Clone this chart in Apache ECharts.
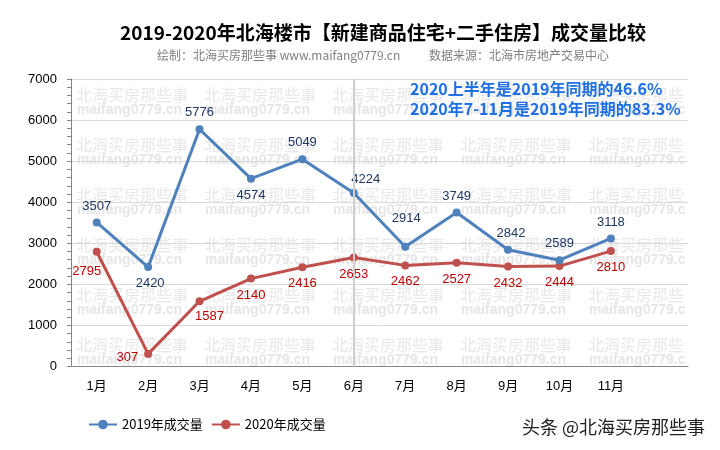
<!DOCTYPE html>
<html><head><meta charset="utf-8">
<script src="https://cdn.jsdelivr.net/npm/echarts@6/dist/echarts.min.js"></script>
<style>html,body{margin:0;padding:0;background:#fff}#c{width:720px;height:450px}</style>
</head><body><div id="c"></div>
<script>
// ---- data ----
const months = ['1月','2月','3月','4月','5月','6月','7月','8月','9月','10月','11月'];
const sales2019 = [3507,2420,5776,4574,5049,4224,2914,3749,2842,2589,3118];
const sales2020 = [2795,307,1587,2140,2416,2653,2462,2527,2432,2444,2810];
const seriesNames = ['2019年成交量','2020年成交量'];
const markedMonth = '6月';
const titleText = '2019-2020年北海楼市【新建商品住宅+二手住房】成交量比较';
const subtitleLeft = '绘制：北海买房那些事 www.maifang0779.cn';
const subtitleRight = '数据来源：北海市房地产交易中心';
const notes = ['2020上半年是2019年同期的46.6%','2020年7-11月是2019年同期的83.3%'];
const watermarkLines = ['北海买房那些事','maifang0779.cn'];
const credit = '头条 @北海买房那些事';

// ---- label placement (style) ----
const place2019 = [['top',0,0],['bottom',2,0],['top',0,0],['bottom',0,0],['top',0,0],['top',12,3],['top',1,-12],['top',0,0],['top',3,0],['top',0,0],['top',0,0]];
const place2020 = [['bottom',-10,3],['left',0,4],['bottom',10,-1],['bottom',0,0],['bottom',0,0],['bottom',0,0],['bottom',0,0],['bottom',0,0],['bottom',0,0],['bottom',0,0],['bottom',0,0]];

function build(vals, place){
  return vals.map((v,i)=>({value:v,label:{position:place[i][0],offset:[place[i][1],place[i][2]]}}));
}

const NUMF = '"Liberation Sans", Arial, "Noto Sans CJK SC", sans-serif';
const CJKF = '"Noto Sans CJK SC", "Liberation Sans", sans-serif';

const graphics = [];
// watermarks
for (let r=0;r<6;r++){
  for (let c=0;c<5;c++){
    const x = 76 + 128*c, y = 95 + 50*r;
    graphics.push({type:'text', z:-1, silent:true, x:x, y:y,
      style:{text:watermarkLines[0], fill:'#e8e8e8', font:'16px "Noto Sans CJK SC"', textVerticalAlign:'middle', width:688-x, overflow:'truncate', ellipsis:''}});
    graphics.push({type:'text', z:-1, silent:true, x:x+1, y:y+15,
      style:{text:watermarkLines[1], fill:'#e6e6e6', font:'bold 14px "Liberation Sans"', textVerticalAlign:'middle', width:688-x-1, overflow:'truncate', ellipsis:''}});
  }
}
graphics.push({type:'text', x:383, y:33, style:{text:titleText, fill:'#000', font:'bold 19px '+CJKF, textAlign:'center', textVerticalAlign:'middle'}});
graphics.push({type:'text', x:157, y:55, style:{text:subtitleLeft, fill:'#7f7f7f', font:'12px '+CJKF, textAlign:'left', textVerticalAlign:'middle'}});
graphics.push({type:'text', x:609, y:55, style:{text:subtitleRight, fill:'#7f7f7f', font:'12px '+CJKF, textAlign:'right', textVerticalAlign:'middle'}});
notes.forEach((t,i)=>graphics.push({type:'text', x:410, y:89+20*i, style:{text:t, fill:'#1f6fe5', font:'bold 16px '+CJKF, textAlign:'left', textVerticalAlign:'middle'}}));
graphics.push({type:'text', x:705, y:427, style:{text:credit, fill:'#222', font:'18px '+CJKF, textAlign:'right', textVerticalAlign:'middle', stroke:'#fff', lineWidth:2}});

const chart = echarts.init(document.getElementById('c'));
chart.setOption({
  animation:false,
  backgroundColor:'#fff',
  grid:{left:71, right:32, top:79, bottom:83.5, containLabel:false},
  legend:{left:83, top:413, itemWidth:28, itemHeight:12, itemGap:8,
    textStyle:{fontSize:13, color:'#000', fontFamily:CJKF}, data:seriesNames},
  xAxis:{type:'category', data:months.concat(['']), boundaryGap:true,
    axisLine:{show:true, lineStyle:{color:'#868686', width:1}},
    axisTick:{show:false},
    axisLabel:{color:'#000', fontSize:13, margin:13, fontFamily:NUMF, interval:0},
    splitLine:{show:false}},
  yAxis:{type:'value', min:0, max:7000, interval:1000,
    axisLine:{show:true, lineStyle:{color:'#868686'}},
    axisTick:{show:true, inside:false, length:4, lineStyle:{color:'#868686'}},
    minorTick:{show:true, splitNumber:5, length:4, lineStyle:{color:'#868686'}},
    axisLabel:{color:'#000', fontSize:13, margin:14, fontFamily:NUMF, formatter:(v)=>String(v)},
    splitLine:{show:true, lineStyle:{color:'#d9d9d9', width:1}}},
  series:[
    {name:seriesNames[0], type:'line', data:build(sales2019, place2019), symbol:'circle', symbolSize:8, z:4,
      itemStyle:{color:'#4f81bd'}, lineStyle:{color:'#4f81bd', width:3},
      label:{show:true, distance:6, fontSize:13, color:'#1f3864', fontFamily:NUMF},
      markLine:{silent:true, symbol:'none', label:{show:false}, lineStyle:{color:'#cfcfcf', width:2, type:'solid'}, data:[{xAxis:markedMonth}]}},
    {name:seriesNames[1], type:'line', data:build(sales2020, place2020), symbol:'circle', symbolSize:8, z:3,
      itemStyle:{color:'#c0504d'}, lineStyle:{color:'#c0504d', width:3},
      label:{show:true, distance:6, fontSize:13, color:'#c00000', fontFamily:NUMF}}
  ],
  graphic:{elements:graphics}
});
</script></body></html>
